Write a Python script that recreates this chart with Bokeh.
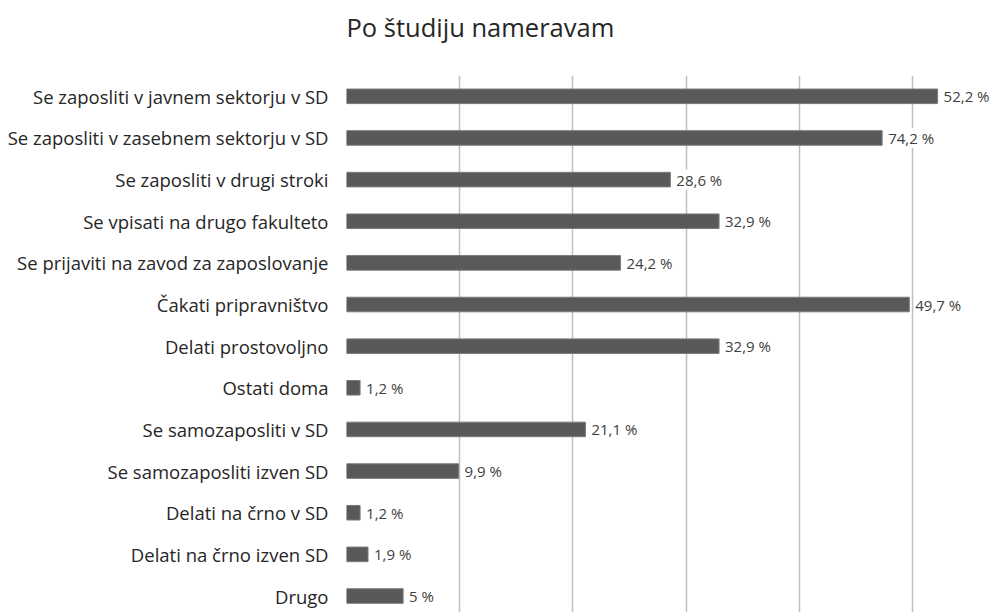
from bokeh.plotting import figure
from bokeh.models import ColumnDataSource, LabelSet, Title, Range1d, FixedTicker
from bokeh.core.properties import value
from bokeh.embed import file_html
from bokeh.resources import INLINE

title_text = "Po študiju nameravam"
categories = [
    "Se zaposliti v javnem sektorju v SD",
    "Se zaposliti v zasebnem sektorju v SD",
    "Se zaposliti v drugi stroki",
    "Se vpisati na drugo fakulteto",
    "Se prijaviti na zavod za zaposlovanje",
    "Čakati pripravništvo",
    "Delati prostovoljno",
    "Ostati doma",
    "Se samozaposliti v SD",
    "Se samozaposliti izven SD",
    "Delati na črno v SD",
    "Delati na črno izven SD",
    "Drugo",
]
# bar lengths as drawn in the reference
values = [52.2, 47.3, 28.6, 32.9, 24.2, 49.7, 32.9, 1.2, 21.1, 9.9, 1.2, 1.9, 5.0]
# data labels as printed in the reference
value_labels = ["52,2 %", "74,2 %", "28,6 %", "32,9 %", "24,2 %", "49,7 %", "32,9 %",
                "1,2 %", "21,1 %", "9,9 %", "1,2 %", "1,9 %", "5 %"]
grid_ticks = [0, 10, 20, 30, 40, 50]

pos = list(range(len(categories)))
src = ColumnDataSource(dict(y=pos, v=values, lab=value_labels))

FONT = "Open Sans"

p = figure(width=998, height=612, output_backend="svg", toolbar_location=None,
           x_range=Range1d(0, 57.4), y_range=Range1d(12.396, -0.5),
           min_border_left=346, min_border_right=2, min_border_top=75, min_border_bottom=0)
p.outline_line_color = None
p.background_fill_color = "white"
p.border_fill_color = "white"

p.hbar(y="y", left=0, right="v", height=0.35, source=src,
       fill_color="#595959", line_color="#7a7a7a", line_width=1)

labels = LabelSet(x="v", y="y", text="lab", source=src, x_offset=6,
                  text_baseline="middle", text_align="left",
                  text_font=value(FONT), text_font_size="15px", text_color="#404040",
                  background_fill_color="white")
p.add_layout(labels)

# spacer between frame and title, then the title itself (stacked outward)
p.add_layout(Title(text=" ", text_font_size="1px", standoff=29), "above")
p.add_layout(Title(text=title_text, align="left", text_font=FONT, text_font_style="normal",
                   text_font_size="25.5px", text_color="#262626", standoff=0), "above")

p.xaxis.visible = False
p.xgrid.ticker = FixedTicker(ticks=grid_ticks)
p.xgrid.grid_line_color = "#bfbfbf"
p.xgrid.grid_line_width = 1.5
p.ygrid.grid_line_color = None

ax = p.yaxis[0]
ax.ticker = FixedTicker(ticks=pos)
ax.major_label_overrides = {i: c for i, c in zip(pos, categories)}
ax.axis_line_color = None
ax.major_tick_line_color = None
ax.minor_tick_line_color = None
ax.major_label_standoff = 12
ax.major_label_text_font = FONT
ax.major_label_text_font_size = "18.5px"
ax.major_label_text_color = "#262626"

open("out.html", "w").write(file_html(p, INLINE))
